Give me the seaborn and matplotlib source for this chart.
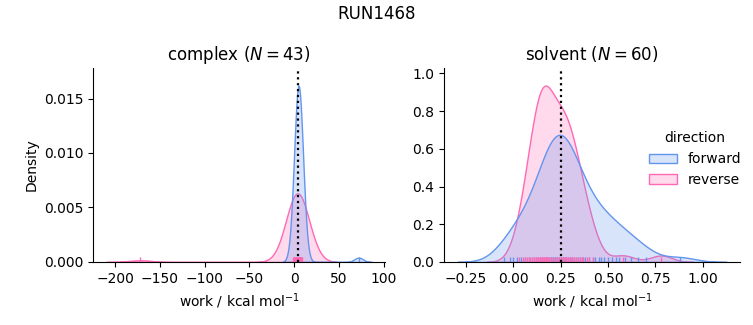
import matplotlib
matplotlib.use("Agg")
import matplotlib.pyplot as plt
import numpy as np
import pandas as pd
import seaborn as sns

run_name = "RUN1468"
phases = ["complex", "solvent"]
directions = ["forward", "reverse"]
colors = ["#6495ED", "#FF69B4"]
free_energy = [4.4, 0.25]

complex_forward = [2.1, 2.5, 2.9, 3.1, 3.3, 3.5, 3.6, 3.8, 3.9, 4.0,
                   4.1, 4.2, 4.3, 4.4, 4.5, 4.6, 4.7, 4.7, 4.8, 4.8,
                   4.9, 4.9, 5.0, 5.1, 5.2, 5.3, 5.4, 5.5, 5.6, 5.7,
                   5.8, 5.9, 6.0, 6.2, 6.3, 6.5, 6.7, 6.9, 7.2, 7.5,
                   3.0, 5.0, 72.0]
complex_reverse = [-1.0, -0.6, -0.2, 0.2, 0.6, 0.9, 1.2, 1.5, 1.8, 2.0,
                   2.2, 2.4, 2.6, 2.8, 3.0, 3.1, 3.3, 3.4, 3.5, 3.6,
                   3.7, 3.8, 3.9, 4.0, 4.2, 4.3, 4.5, 4.6, 4.8, 5.0,
                   5.2, 5.4, 5.6, 5.8, 6.0, 6.3, 6.6, 6.9, 7.2, 7.6,
                   8.1, 8.8, -172.0]
solvent_forward = [-0.05, -0.02, 0.00, 0.02, 0.04, 0.06, 0.08, 0.10, 0.12, 0.13,
                   0.14, 0.15, 0.16, 0.17, 0.18, 0.18, 0.19, 0.20, 0.20, 0.21,
                   0.21, 0.22, 0.22, 0.23, 0.23, 0.24, 0.37, 0.25, 0.25, 0.26,
                   0.26, 0.27, 0.27, 0.28, 0.28, 0.29, 0.30, 0.30, 0.31, 0.32,
                   0.33, 0.34, 0.35, 0.36, 0.38, 0.40, 0.42, 0.43, 0.45, 0.46,
                   0.48, 0.50, 0.52, 0.54, 0.56, 0.59, 0.62, 0.66, 0.70, 0.88]
solvent_reverse = [0.15, 0.03, 0.05, 0.06, 0.07, 0.08, 0.09, 0.10, 0.11, 0.11,
                   0.12, 0.12, 0.13, 0.13, 0.14, 0.14, 0.15, 0.15, 0.15, 0.16,
                   0.16, 0.16, 0.17, 0.17, 0.18, 0.18, 0.19, 0.19, 0.20, 0.21,
                   0.22, 0.23, 0.24, 0.24, 0.25, 0.25, 0.26, 0.26, 0.27, 0.27,
                   0.28, 0.28, 0.29, 0.29, 0.30, 0.30, 0.31, 0.31, 0.32, 0.33,
                   0.34, 0.35, 0.36, 0.37, 0.39, 0.40, 0.42, 0.17, 0.58, 0.78]

series = {
    ("complex", "forward"): complex_forward,
    ("complex", "reverse"): complex_reverse,
    ("solvent", "forward"): solvent_forward,
    ("solvent", "reverse"): solvent_reverse,
}
rows = []
for (phase, direction), vals in series.items():
    for v in vals:
        rows.append({"phase": phase, "direction": direction, "work": v})
df = pd.DataFrame(rows)

g = sns.displot(data=df, x="work", hue="direction", col="phase", kind="kde",
                fill=True, rug=True, hue_order=directions, col_order=phases,
                palette=dict(zip(directions, colors)),
                facet_kws=dict(sharex=False, sharey=False), height=3.25, aspect=1.0)

fig = g.figure
fig.set_size_inches(7.53, 3.25)
fig.subplots_adjust(left=0.1235, right=0.983, bottom=0.194, top=0.791, wspace=0.21)
axes = g.axes.flatten()
pos0 = axes[0].get_position()
axes[0].set_position([93 / 753, pos0.y0, (385 - 93) / 753, pos0.height])
axes[1].set_position([444 / 753, pos0.y0, (740 - 444) / 753, pos0.height])

for ax, phase, dg in zip(axes, phases, free_energy):
    n = len(series[(phase, "forward")])
    ax.set_title(f"{phase} ($N={n}$)", fontsize=12)
    ax.axvline(dg, color="black", linestyle=":", linewidth=1.6)
    ax.set_xlabel("work / kcal mol$^{-1}$")
axes[0].set_ylabel("Density")
axes[1].set_ylabel("")

fig.suptitle(run_name, fontsize=12, y=0.985)
sns.move_legend(g, "center", bbox_to_anchor=(0.923, 0.51), frameon=False)

fig.savefig("out.png", dpi=100)
